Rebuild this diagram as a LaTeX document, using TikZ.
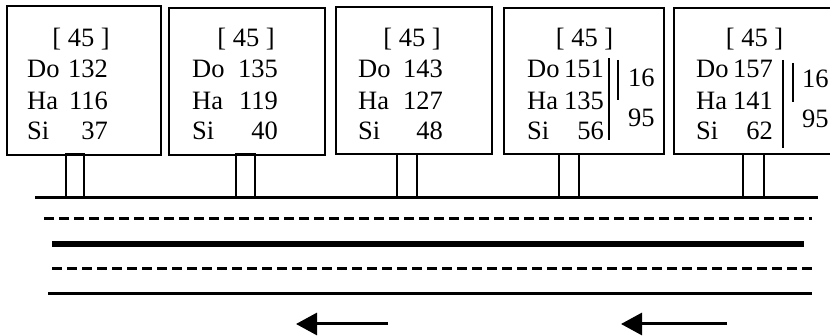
\documentclass[tikz,border=0pt]{standalone}
\usepackage{fontspec}
\setmainfont{Liberation Serif}
\usetikzlibrary{arrows.meta}
\newcommand{\roadsign}[8]{%
  \node[txt,anchor=base] (#1h) at (#2,47) {[ 45 ]};
  \node[txt,anchor=base west] (#1dl) at (#3,78) {Do};
  \node[txt,anchor=base east] (#1dn) at (#4,78) {#5};
  \node[txt,anchor=base west] (#1hl) at (#3,110) {Ha};
  \node[txt,anchor=base east] (#1hn) at (#4,110) {#6};
  \node[txt,anchor=base west] (#1sl) at (#3,140) {Si};
  \node[txt,anchor=base east] (#1sn) at (#4,140) {#7};
}
\begin{document}
\begin{tikzpicture}[x=1pt,y=-1pt,
  box/.style={draw,line width=2pt,inner sep=0},
  post/.style={draw,line width=2pt,inner sep=0,minimum height=44pt},
  txt/.style={inner sep=0,font=\fontsize{26.5}{31}\selectfont},
  bar/.style={line width=2pt},
  solidline/.style={line width=3pt},
  dashline/.style={line width=3pt,dash pattern=on 10pt off 5pt},
  heavyline/.style={line width=6.5pt},
  arr/.style={line width=3pt,-{Triangle[length=21pt,width=22pt]}}]
\useasboundingbox (0,0) rectangle (830,336);
\clip (0,0) rectangle (830,336);
% posts
\node[post,minimum width=18pt] (p1) at (75,176) {};
\node[post,minimum width=19pt] (p2) at (245.5,176) {};
\node[post,minimum width=20pt] (p3) at (407,176) {};
\node[post,minimum width=20pt] (p4) at (569,176) {};
\node[post,minimum width=21pt] (p5) at (753.5,176) {};
% boxes
\node[box,minimum width=154pt,minimum height=149pt] (b1) at (84,80.5) {};
\node[box,minimum width=156pt,minimum height=147pt] (b2) at (247,81.5) {};
\node[box,minimum width=156pt,minimum height=147pt] (b3) at (414,80.5) {};
\node[box,minimum width=160pt,minimum height=146pt] (b4) at (584,81) {};
\node[box,minimum width=166pt,minimum height=146pt] (b5) at (757,81) {};
% texts
\roadsign{s1}{81}{27}{108}{132}{116}{37}{}
\roadsign{s2}{246}{192}{278}{135}{119}{40}{}
\roadsign{s3}{412}{358}{443}{143}{127}{48}{}
\roadsign{s4}{584.5}{527}{604}{151}{135}{56}{}
\roadsign{s5}{754.5}{696}{773}{157}{141}{62}{}
% bars and side numbers
\draw[bar] (609,58) -- (609,140);
\draw[bar] (618,60) -- (618,100);
\node[txt,anchor=base west] (s4a) at (628,87) {16};
\node[txt,anchor=base west] (s4b) at (628,127) {95};
\draw[bar] (783,60) -- (783,148);
\draw[bar] (793,63) -- (793,102);
\node[txt,anchor=base west] (s5a) at (802,88) {16};
\node[txt,anchor=base west] (s5b) at (802,128) {95};
% road lines
\coordinate (r1a) at (35,198); \coordinate (r1b) at (818,198);
\coordinate (r2a) at (44,219); \coordinate (r2b) at (812,219);
\coordinate (r3a) at (52,244); \coordinate (r3b) at (804,244);
\coordinate (r4a) at (52,269); \coordinate (r4b) at (812,269);
\coordinate (r5a) at (48,294); \coordinate (r5b) at (812,294);
\draw[solidline] (r1a) -- (r1b);
\draw[dashline] (r2a) -- (r2b);
\draw[heavyline] (r3a) -- (r3b);
\draw[dashline] (r4a) -- (r4b);
\draw[solidline] (r5a) -- (r5b);
% arrows
\coordinate (a1s) at (388,324); \coordinate (a1e) at (296,324);
\coordinate (a2s) at (727,324); \coordinate (a2e) at (621,324);
\draw[arr] (a1s) -- (a1e);
\draw[arr] (a2s) -- (a2e);
\end{tikzpicture}
\end{document}
